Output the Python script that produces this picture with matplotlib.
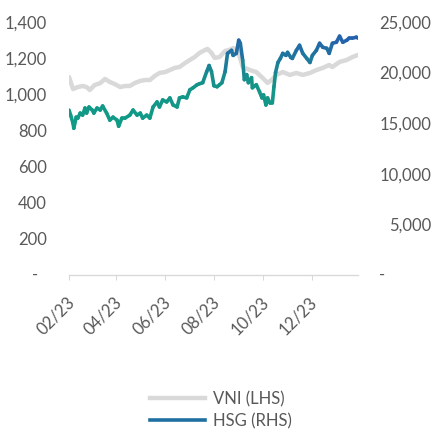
import matplotlib
matplotlib.use("Agg")
import matplotlib.pyplot as plt
import matplotlib.dates as mdates
import matplotlib.transforms as mtrans
from matplotlib.collections import LineCollection
from matplotlib.colors import LinearSegmentedColormap, Normalize
from matplotlib.lines import Line2D
import numpy as np
import pandas as pd

plt.rcParams['font.family'] = ['Lato', 'DejaVu Sans']

start = pd.Timestamp('2023-02-01')

# VNI index (left axis), days after 2023-02-01
vni_day = [0, 5, 11, 17, 22, 26, 32, 39, 45, 51, 57, 64, 70, 76, 82, 89, 95, 101, 107, 113,
           120, 126, 132, 138, 145, 151, 157, 163, 170, 173, 178, 182, 188, 195, 200, 205, 211, 217, 226, 234,
           242, 248, 253, 259, 267, 276, 284, 292, 301, 309, 317, 325, 329, 338, 347, 354, 361]
vni = [1096, 1029, 1040, 1046, 1040, 1024, 1051, 1062, 1085, 1068, 1057, 1040, 1046, 1046, 1062, 1074, 1079, 1079, 1101, 1118,
       1123, 1134, 1146, 1151, 1173, 1190, 1206, 1229, 1245, 1251, 1229, 1201, 1206, 1240, 1245, 1256, 1240, 1151, 1134, 1123,
       1090, 1063, 1079, 1107, 1123, 1107, 1118, 1107, 1118, 1134, 1146, 1162, 1151, 1179, 1190, 1206, 1218]

# HSG price (right axis)
hsg_day = [0, 2, 5, 6, 9, 11, 14, 17, 20, 22, 25, 29, 31, 35, 39, 42, 47, 51, 55, 60,
           62, 66, 70, 76, 80, 85, 89, 92, 97, 101, 105, 110, 113, 117, 122, 126, 130, 135, 138, 142,
           147, 151, 155, 160, 163, 167, 172, 175, 178, 181, 185, 188, 191, 195, 198, 203, 205, 209, 212, 214,
           217, 219, 222, 224, 228, 229, 234, 238, 241, 243, 246, 248, 251, 254, 256, 258, 261, 264, 267, 271,
           273, 277, 279, 284, 288, 292, 297, 301, 304, 309, 313, 317, 322, 325, 329, 334, 338, 342, 347, 350,
           354, 359, 361]
hsg = [16300, 15800, 15000, 14500, 15600, 15500, 16000, 15800, 16500, 16000, 16600, 16300, 16000, 16500, 16300, 16700, 16000, 15300, 15600, 15300,
       14700, 15500, 15500, 15800, 16300, 15800, 16000, 15500, 15800, 15500, 16600, 17100, 16600, 17300, 17100, 17500, 16800, 16600, 17500, 17600,
       17500, 18300, 18500, 18800, 18900, 19000, 20100, 20700, 20100, 18700, 18600, 18800, 19000, 20100, 21900, 22200, 21700, 21900, 23200, 22900,
       21200, 19300, 19800, 19000, 19500, 18500, 18800, 18100, 17500, 17800, 16800, 17500, 17000, 17000, 18600, 20000, 21000, 21400, 21900, 21700,
       22000, 21500, 21400, 22200, 22700, 21900, 21400, 21000, 21700, 22200, 22900, 22500, 22400, 21900, 22900, 23000, 23600, 23000, 23200, 23400,
       23400, 23500, 23400]

left_ticks = [0, 200, 400, 600, 800, 1000, 1200, 1400]
right_ticks = [0, 5000, 10000, 15000, 20000, 25000]
labels = ['VNI (LHS)', 'HSG (RHS)']

vni_dates = start + pd.to_timedelta(vni_day, unit='D')
hsg_dates = start + pd.to_timedelta(hsg_day, unit='D')

grey = '#d9d9d9'
txt = '#595959'

fig = plt.figure(figsize=(4.33, 4.30), dpi=100)
ax = fig.add_axes([69/433, 1-275/430, (358-69)/433, (275-22)/430])
ax2 = ax.twinx()

ax.plot(vni_dates, vni, color=grey, linewidth=3.2, solid_capstyle='round', solid_joinstyle='round')

# HSG drawn with teal->blue gradient by value
cmap = LinearSegmentedColormap.from_list('hsg', ['#0e9c86', '#169389', '#2660ae'])
xs = mdates.date2num(hsg_dates)
pts = np.column_stack([xs, hsg])
segs = np.stack([pts[:-1], pts[1:]], axis=1)
hv = np.array(hsg, dtype=float)
lc = LineCollection(segs, cmap=cmap, norm=Normalize(min(hsg), max(hsg)), linewidths=2.6,
                    capstyle='round', joinstyle='round')
lc.set_array((hv[:-1] + hv[1:]) / 2)
ax2.add_collection(lc)

ax.set_xlim(start, pd.Timestamp('2024-01-28'))
ax.set_ylim(0, 1400)
ax2.set_ylim(0, 25000)

for a in (ax, ax2):
    for s in a.spines.values():
        s.set_visible(False)
ax.spines['bottom'].set_visible(True)
ax.spines['bottom'].set_color(grey)
ax.spines['bottom'].set_linewidth(1)

ax.set_yticks(left_ticks)
ax.set_yticklabels(['' if v == 0 else f'{v:,}' for v in left_ticks])
ax2.set_yticks(right_ticks)
ax2.set_yticklabels(['' if v == 0 else f'{v:,}' for v in right_ticks])
ax.tick_params(axis='y', length=0, pad=15.8, labelsize=12, labelcolor=txt)
ax2.tick_params(axis='y', length=0, pad=52.6, labelsize=12, labelcolor=txt)
for lab in ax2.get_yticklabels():
    lab.set_ha('right')

# zero shown as dash
ax.text(35.5/433, 0, '-', transform=mtrans.blended_transform_factory(fig.transFigure, ax.transData),
        ha='center', va='center', fontsize=12, color=txt)
ax.text(382.5/433, 0, '-', transform=mtrans.blended_transform_factory(fig.transFigure, ax.transData),
        ha='center', va='center', fontsize=12, color=txt)

ax.xaxis.set_major_locator(mdates.MonthLocator(bymonth=[2, 4, 6, 8, 10, 12]))
ax.xaxis.set_major_formatter(mdates.DateFormatter('%m/%y'))
ax.tick_params(axis='x', direction='out', length=3.6, width=0.75, color=grey, pad=14,
               labelsize=12, labelcolor=txt)
off = mtrans.ScaledTranslation(3/100, 0, fig.dpi_scale_trans)
for lab in ax.get_xticklabels():
    lab.set_rotation(45)
    lab.set_ha('right')
    lab.set_va('center')
    lab.set_rotation_mode('anchor')
    lab.set_transform(lab.get_transform() + off)

handles = [Line2D([], [], color=grey, linewidth=3.2),
           Line2D([], [], color='#1f6fa3', linewidth=2.6)]
fig.legend(handles, labels, loc='center', bbox_to_anchor=(221/433, 1-410/430), frameon=False,
           handlelength=3.3, handletextpad=0.5, labelspacing=0.35, fontsize=12, labelcolor=txt)

fig.savefig('out.png', dpi=100)
